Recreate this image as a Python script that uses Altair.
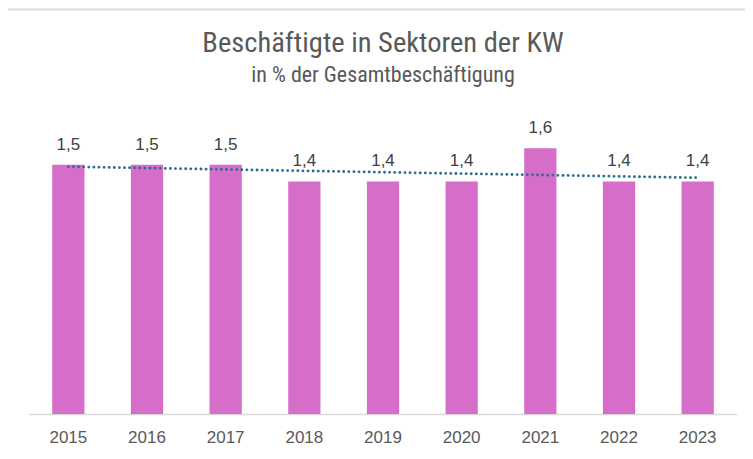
import altair as alt
import pandas as pd

years = [2015, 2016, 2017, 2018, 2019, 2020, 2021, 2022, 2023]
values = [1.5, 1.5, 1.5, 1.4, 1.4, 1.4, 1.6, 1.4, 1.4]
title_text = "Beschäftigte in Sektoren der KW"
subtitle_text = "in % der Gesamtbeschäftigung"

df = pd.DataFrame({"year": years, "value": values})
tdf = pd.DataFrame({"title": [title_text], "subtitle": [subtitle_text]})

NARROW = "Roboto Condensed, DejaVu Sans Condensed, Liberation Sans Narrow, Roboto, sans-serif"

base = alt.Chart(df)

x_enc = alt.X(
    "year:O",
    title=None,
    scale=alt.Scale(paddingInner=0.59, paddingOuter=0.295),
    axis=alt.Axis(
        labelAngle=0,
        labelFontSize=17,
        labelColor="#595959",
        labelFont="Liberation Sans",
        labelPadding=15,
        ticks=False,
        domainColor="#D9D9D9",
        domainWidth=1.5,
    ),
)
y_enc = alt.Y(
    "value:Q",
    title=None,
    scale=alt.Scale(domain=[0, 1.8], nice=False),
    axis=None,
)

frame = base.mark_rect(
    filled=False, stroke="#D9D9D9", strokeWidth=2, fill=None
).encode(
    x=alt.value(-23.5), x2=alt.value(740), y=alt.value(-105.5), y2=alt.value(360)
).transform_filter("datum.year == 2015")

title = alt.Chart(tdf).mark_text(
    font=NARROW, fontSize=28.5, color="#595959", baseline="alphabetic"
).encode(x=alt.value(354), y=alt.value(-63), text="title:N")

subtitle = alt.Chart(tdf).mark_text(
    font=NARROW, fontSize=22, color="#595959", baseline="alphabetic"
).encode(x=alt.value(354), y=alt.value(-33), text="subtitle:N")

bars = base.mark_bar(color="#D66EC9").encode(x=x_enc, y=y_enc)

labels = base.mark_text(
    dy=-20, fontSize=17, color="#404040", font="Liberation Sans"
).transform_calculate(
    label="replace(format(datum.value, '.1f'), '.', ',')"
).encode(x=x_enc, y=y_enc, text="label:N")

trend = base.mark_line(
    color="#2B6E94", strokeWidth=2.8, strokeCap="round", strokeDash=[0.1, 5]
).transform_regression("year", "value").encode(x=x_enc, y=y_enc)

chart = (
    alt.layer(frame, title, subtitle, bars, trend, labels)
    .properties(
        width=708,
        height=299,
        padding={"left": 21, "top": 107, "right": 8, "bottom": 37},
        autosize=alt.AutoSizeParams(type="none"),
    )
    .configure_view(stroke=None)
)

chart.save("out.html", embed_options={"renderer": "svg", "actions": False})
